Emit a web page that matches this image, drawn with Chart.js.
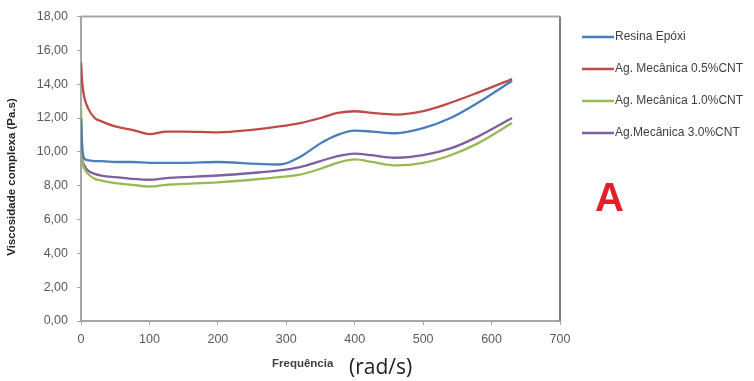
<!DOCTYPE html>
<html lang="pt">
<head>
    <meta charset="UTF-8">
    <title>Viscosidade complexa</title>
    <script src="https://cdn.jsdelivr.net/npm/chart.js"></script>
    <style>
        body { margin: 0; background: #fff; }
        #wrap { width: 754px; height: 381px; position: relative; }
    </style>
</head>
<body>
<div id="wrap"><canvas id="chart"></canvas></div>
<script>
    // frequency (rad/s)
    const freq = [0, 2, 5, 10, 20, 30, 50, 75, 100, 125, 150, 200, 250, 290, 320, 350, 375, 400, 425, 460, 500, 540, 580, 630];

    // complex viscosity (Pa.s)
    const resina = [12.0, 10.2, 9.6, 9.5, 9.45, 9.45, 9.4, 9.4, 9.35, 9.35, 9.35, 9.4, 9.3, 9.25, 9.7, 10.5, 11.0, 11.25, 11.2, 11.1, 11.4, 12.0, 12.9, 14.2];
    const ag05 = [15.3, 14.0, 13.2, 12.6, 12.0, 11.8, 11.5, 11.3, 11.05, 11.2, 11.2, 11.15, 11.3, 11.5, 11.7, 12.0, 12.3, 12.4, 12.3, 12.2, 12.4, 12.9, 13.5, 14.3];
    const ag10 = [12.8, 9.6, 9.0, 8.7, 8.4, 8.3, 8.15, 8.05, 7.95, 8.05, 8.1, 8.2, 8.35, 8.5, 8.65, 9.0, 9.35, 9.55, 9.4, 9.2, 9.35, 9.8, 10.5, 11.7];
    const ag30 = [11.0, 9.6, 9.2, 8.9, 8.7, 8.6, 8.5, 8.4, 8.35, 8.45, 8.5, 8.6, 8.75, 8.9, 9.1, 9.45, 9.75, 9.9, 9.8, 9.65, 9.8, 10.2, 10.9, 12.0];

    const seriesNames = ['Resina Epóxi', 'Ag. Mecânica 0.5%CNT', 'Ag. Mecânica 1.0%CNT', 'Ag.Mecânica 3.0%CNT'];
    const seriesColors = ['#4a7ebb', '#be4b48', '#98b954', '#7d60a0'];
    const seriesValues = [resina, ag05, ag10, ag30];

    const datasets = seriesValues.map((vals, i) => ({
        label: seriesNames[i],
        data: freq.map((f, j) => ({ x: f, y: vals[j] })),
        borderColor: seriesColors[i],
        borderWidth: 2.3,
        pointRadius: 0,
        fill: false,
        cubicInterpolationMode: 'monotone'
    }));

    // legend, big "A", axis titles and plot frame
    const extras = {
        id: 'extras',
        afterDraw(chart) {
            const ctx = chart.ctx;
            const a = chart.chartArea;
            ctx.save();

            // frame top + right
            ctx.strokeStyle = '#a6a6a6';
            ctx.lineWidth = 2;
            ctx.beginPath();
            ctx.moveTo(a.left, a.top);
            ctx.lineTo(a.right, a.top);
            ctx.stroke();
            ctx.strokeStyle = '#808080';
            ctx.beginPath();
            ctx.moveTo(a.right, a.top);
            ctx.lineTo(a.right, a.bottom);
            ctx.stroke();

            // legend
            const rows = [37, 69, 101, 133];
            ctx.font = '12px "Liberation Sans", Arial, sans-serif';
            ctx.textBaseline = 'middle';
            ctx.textAlign = 'left';
            chart.data.datasets.forEach((ds, i) => {
                ctx.strokeStyle = ds.borderColor;
                ctx.lineWidth = 2.5;
                ctx.beginPath();
                ctx.moveTo(582, rows[i]);
                ctx.lineTo(614, rows[i]);
                ctx.stroke();
                ctx.fillStyle = '#404040';
                ctx.fillText(ds.label, 615, rows[i]);
            });

            // big A
            ctx.fillStyle = '#e2202c';
            ctx.font = 'bold 40px "Liberation Sans", Arial, sans-serif';
            ctx.textBaseline = 'alphabetic';
            ctx.fillText('A', 595, 211);

            // x title
            ctx.fillStyle = '#404040';
            ctx.font = 'bold 11.5px "Liberation Sans", Arial, sans-serif';
            ctx.textBaseline = 'alphabetic';
            ctx.fillText('Frequência', 272, 367);
            ctx.fillStyle = '#222';
            ctx.font = '21px "Open Sans", sans-serif';
            ctx.fillText('(rad/s)', 349, 374);

            // y title
            ctx.translate(12, 177);
            ctx.rotate(-Math.PI / 2);
            ctx.textAlign = 'center';
            ctx.textBaseline = 'middle';
            ctx.fillStyle = '#262626';
            ctx.font = 'bold 11.5px "Liberation Sans", Arial, sans-serif';
            ctx.fillText('Viscosidade complexa (Pa.s)', 0, 0);
            ctx.restore();
        }
    };

    new Chart(document.getElementById('chart'), {
        type: 'line',
        data: { datasets: datasets },
        options: {
            responsive: true,
            maintainAspectRatio: false,
            animation: false,
            layout: { padding: { left: 0, right: 194, top: 15, bottom: 0 } },
            plugins: { legend: { display: false }, tooltip: { enabled: false } },
            scales: {
                x: {
                    type: 'linear',
                    min: 0,
                    max: 700,
                    afterFit: s => { s.height = 60; },
                    ticks: {
                        stepSize: 100,
                        color: '#595959',
                        font: { size: 12.5, family: '"Liberation Sans", Arial, sans-serif' },
                        padding: 7
                    },
                    grid: { drawOnChartArea: false, tickLength: 4, color: '#a6a6a6' },
                    border: { color: '#a6a6a6', width: 2 }
                },
                y: {
                    min: 0,
                    max: 18,
                    afterFit: s => { s.width = 81; },
                    ticks: {
                        stepSize: 2,
                        color: '#595959',
                        font: { size: 12.5, family: '"Liberation Sans", Arial, sans-serif' },
                        padding: 9,
                        callback: v => v.toFixed(2).replace('.', ',')
                    },
                    grid: { drawOnChartArea: false, tickLength: 4, color: '#a6a6a6' },
                    border: { color: '#a6a6a6', width: 2 }
                }
            }
        },
        plugins: [extras]
    });
</script>
</body>
</html>
